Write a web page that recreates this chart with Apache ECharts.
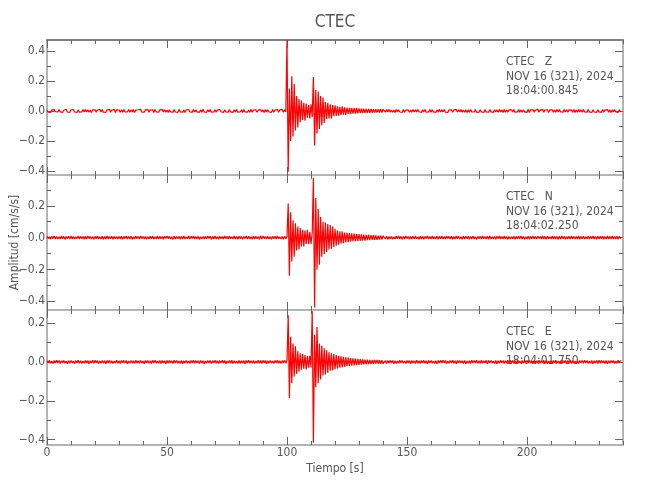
<!DOCTYPE html>
<html><head><meta charset="utf-8">
<script src="https://cdn.jsdelivr.net/npm/echarts@6/dist/echarts.min.js"></script>
<style>html,body{margin:0;padding:0;background:#fff}#c{width:650px;height:500px}</style>
</head><body><div id="c"></div>
<script>
// ---------- DATA ----------
const stationTitle = 'CTEC';
const componentLabels = [
  'CTEC   Z\nNOV 16 (321), 2024\n18:04:00.845',
  'CTEC   N\nNOV 16 (321), 2024\n18:04:02.250',
  'CTEC   E\nNOV 16 (321), 2024\n18:04:01.750'
];
const xAxisName = 'Tiempo [s]';
const yAxisName = 'Amplitud [cm/s/s]';
const sampleInterval = 0.5; // seconds between samples
// traces in thousandths of cm/s/s, one sample every 0.5 s from t = 0
const zTraceMilli = [
6,-8,5,-10,7,-6,9,-5,8,-7,
10,-6,7,-9,5,-8,11,-7,6,-9,
8,-5,9,-7,6,-10,7,-8,5,-6,
9,-7,10,-6,8,-9,6,-11,7,-5,
8,-8,6,-7,10,-6,9,-8,5,-9,
7,-6,11,-8,6,-7,9,-10,8,-5,
6,-9,7,-8,10,-6,5,-7,9,-8,
8,-6,9,-10,6,-7,8,-5,11,-8,
5,-8,7,-6,9,-9,6,-7,8,-10,
10,-7,6,-8,7,-5,9,-6,8,-9,
7,-10,8,-6,5,-8,10,-7,6,-9,
9,-6,7,-8,6,-11,8,-5,9,-7,
6,-8,10,-7,8,-6,5,-9,7,-8,
11,-7,6,-9,8,-6,9,-8,5,-7,
8,-9,6,-7,10,-5,7,-10,8,-6,
7,-8,9,-6,6,-9,8,-7,10,-8,
5,-7,8,-10,9,-6,7,-8,6,-9,
10,-8,6,-7,8,-9,5,-6,9,-7,
7,-10,9,-6,8,-7,6,-9,10,-8,
6,-7,9,-8,7,-6,10,-9,8,
-6,
470,-405,150,-200,230,-170,180,-130,100,-110,80,-75,70,-60,55,-65,50,-45,40,-50,45,-40,
225,-230,140,-150,130,-120,100,-95,90,-80,60,-55,55,-50,45,-50,40,-35,38,-33,30,-32,28,-27,30,-25,24,-26,22,-20,
21,-19,20,-18,19,-17,18,-16,17,-15,16,-15,15,-14,14,-13,14,-12,13,-12,12,-11,12,-11,11,-10,12,-10,11,
8,-7,10,-6,9,-8,6,-9,7,-10,
9,-6,8,-7,5,-9,10,-8,6,-7,
7,-9,6,-8,10,-7,8,-6,9,-5,
6,-10,8,-7,9,-8,5,-7,10,-9,
8,-6,7,-9,6,-8,11,-7,8,-6,
9,-8,5,-10,7,-6,8,-9,6,-7,
10,-7,8,-6,9,-9,6,-8,7,-10,
7,-8,9,-6,6,-7,10,-8,5,-9,
8,-6,7,-10,9,-7,6,-8,10,-6,
6,-9,8,-7,7,-8,9,-6,8,-10,
10,-8,6,-9,7,-6,8,-7,9,-8,
5,-7,10,-8,6,-9,8,-6,7,-9,
9,-10,7,-6,8,-8,6,-7,11,-8,
7,-6,9,-9,6,-7,8,-10,7,-6,
8,-9,6,-8,10,-7,9,-6,5,-8,
10,-7,8,-9,7,-6,6,-8,9,-10,
6,-8,9,-7,8,-9,10,-6,7,-8,
9,-6,7,-10,8,-7,6,-9,8,-6,
7,-9,10,-8,6,-7,9,-8,7,-10,
8,-6,9,-7,6,-9,8,-7
];
const nTraceMilli = [
9,-7,6,-10,8,-6,11,-8,7,-9,
6,-9,10,-7,8,-11,7,-6,9,-8,
10,-8,7,-9,6,-7,10,-9,8,-6,
7,-10,9,-8,11,-6,8,-9,6,-10,
8,-7,10,-9,6,-8,9,-11,7,-8,
11,-9,7,-6,9,-10,8,-7,6,-9,
7,-8,9,-10,8,-6,10,-9,7,-8,
9,-11,6,-8,10,-7,8,-9,11,-6,
8,-9,7,-10,6,-8,9,-7,10,-9,
6,-8,11,-9,8,-7,7,-10,9,-6,
10,-7,8,-9,6,-11,9,-8,7,-6,
8,-10,7,-8,11,-9,6,-7,10,-8,
9,-6,10,-9,7,-8,8,-11,6,-9,
7,-9,8,-7,10,-6,9,-10,8,-8,
11,-8,6,-10,9,-7,7,-9,10,-6,
8,-9,10,-7,6,-8,11,-9,7,-10,
9,-7,8,-10,7,-6,10,-8,9,-9,
6,-10,9,-8,8,-7,7,-11,10,-8,
10,-6,7,-9,9,-8,6,-10,8,-7,
9,-8,10,-7,6,-9,8,-10,8,
-7,
8,215,-240,160,-150,110,-120,90,-80,70,-75,60,-55,50,-55,45,-40,50,-40,35,-40,30,
375,-440,250,-200,180,-170,130,-120,100,-105,95,-90,85,-75,80,-70,70,-60,55,-50,45,-45,40,-38,40,-35,32,-30,30,-28,
28,-26,27,-24,25,-22,23,-21,22,-20,20,-19,19,-18,18,-16,17,-15,16,-14,15,-14,14,-13,13,-12,13,-12,12,
10,-8,9,-11,7,-9,8,-10,6,-8,
9,-7,11,-8,8,-10,7,-9,10,-6,
8,-10,7,-9,9,-8,10,-7,6,-11,
9,-8,7,-10,8,-6,11,-9,7,-8,
10,-9,6,-8,9,-11,8,-7,10,-9,
7,-8,10,-6,8,-9,9,-10,7,-8,
11,-7,8,-9,6,-10,9,-8,8,-7,
9,-10,7,-8,10,-9,6,-11,8,-7,
8,-9,10,-7,7,-8,9,-10,11,-8,
6,-9,8,-10,9,-7,10,-8,7,-9,
10,-8,7,-11,8,-9,6,-7,9,-10,
8,-7,9,-9,10,-8,7,-10,6,-8,
9,-11,8,-7,10,-9,7,-8,9,-6,
7,-9,10,-8,8,-10,9,-7,6,-9,
10,-8,8,-9,7,-11,9,-8,10,-7,
8,-10,6,-9,9,-8,11,-7,8,-9,
7,-8,10,-10,8,-7,9,-9,6,-8,
9,-9,8,-7,10,-8,7,-10,9,-8,
8,-7,9,-10,7,-9,10,-8,8,-9,
10,-8,7,-9,9,-10,8,-7
];
const eTraceMilli = [
6,-5,8,-7,5,-8,7,-6,9,-5,
7,-8,6,-5,8,-7,5,-9,6,-7,
8,-6,5,-8,7,-5,9,-7,6,-8,
5,-7,8,-6,7,-9,6,-5,8,-7,
9,-6,7,-8,5,-7,8,-6,6,-9,
7,-5,8,-7,6,-8,5,-6,9,-7,
6,-8,7,-5,8,-6,7,-9,5,-7,
8,-7,6,-8,9,-5,6,-7,8,-6,
5,-9,7,-6,8,-7,6,-8,7,-5,
9,-6,5,-7,8,-8,7,-6,6,-9,
7,-7,8,-5,6,-8,9,-6,7,-7,
5,-8,7,-9,6,-6,8,-7,5,-8,
8,-6,9,-7,7,-5,6,-8,8,-7,
6,-9,5,-7,8,-6,7,-8,6,-5,
9,-7,6,-8,7,-6,8,-5,7,-9,
5,-6,8,-7,9,-8,6,-7,5,-8,
7,-8,6,-6,8,-9,7,-5,9,-7,
6,-7,8,-8,5,-6,9,-7,7,-8,
8,-5,7,-9,6,-7,8,-6,5,-8,
7,-6,9,-7,6,-8,7,-5,8,
-6,
6,240,-185,130,-110,95,-75,80,-60,55,-50,45,-40,40,-35,35,-38,30,-30,32,-28,260,
-415,140,-130,180,-110,95,-90,85,-70,70,-65,60,-55,50,-45,45,-42,40,-38,35,-33,32,-30,30,-28,26,-25,24,-22,22,
-21,20,-19,19,-18,17,-16,16,-15,14,-14,13,-13,12,-12,12,-11,11,-11,10,-10,10,-9,10,-9,9,-9,9,-8,
-7,6,-8,7,-5,8,-6,7,-9,6,
-8,5,-7,9,-6,8,-7,5,-8,7,
-6,8,-9,7,-5,6,-8,9,-7,6,
-8,7,-5,8,-7,6,-9,7,-6,8,
-7,5,-8,6,-9,7,-6,8,-5,9,
-6,7,-8,5,-7,8,-6,9,-7,6,
-9,8,-6,7,-5,6,-8,7,-9,5,
-7,6,-8,9,-6,7,-5,8,-7,6,
-8,9,-7,6,-5,8,-9,7,-6,8,
-6,5,-8,7,-9,6,-7,8,-5,7,
-8,6,-7,9,-6,8,-5,7,-8,6,
-9,7,-6,5,-8,7,-7,9,-6,8,
-5,8,-7,6,-9,7,-8,6,-6,9,
-7,6,-5,8,-8,7,-9,5,-7,6,
-8,7,-6,9,-7,5,-8,6,-9,8,
-6,8,-7,7,-5,9,-8,6,-7,5,
-9,6,-8,7,-6,8,-7,9,-5,7,
-8,5,-7,8,-9,6,-6,7,-8,9,
-7,8,-5,6,-8,7,-9,6,-7,8,
-6,7,-8,5,-7,9,-6,8
];
const traces = [zTraceMilli, nTraceMilli, eTraceMilli];
const xRange = [0, 240];
const xMajorTicks = [0, 50, 100, 150, 200];
const xMinorTicks = [0,10,20,30,40,50,60,70,80,90,100,110,120,130,140,150,160,170,180,190,200,210,220,230,240];
const yRanges = [[-0.426, 0.472], [-0.455, 0.394], [-0.427, 0.267]];
const yMajorTicks = [[-0.4,-0.2,0,0.2,0.4], [-0.4,-0.2,0,0.2], [-0.4,-0.2,0,0.2]];
const yMinorTicks = [
  [-0.4,-0.3,-0.2,-0.1,0,0.1,0.2,0.3,0.4],
  [-0.4,-0.3,-0.2,-0.1,0,0.1,0.2,0.3],
  [-0.4,-0.3,-0.2,-0.1,0,0.1,0.2]
];

// ---------- CHART ----------
const FONT = "'DejaVu Sans Condensed','Liberation Sans Narrow','Liberation Sans',sans-serif";
const TXT = '#555';
const AX = '#b4b4b4';
const TICK = '#666';
const PLOT_LEFT = 47, PLOT_RIGHT = 27, PLOT_TOP = 40, PANEL_H = 135;

const grids = [], xAxes = [], yAxes = [], series = [], graphics = [];
const fmtY = v => (v < 0 ? '\u2212' : '') + Math.abs(v).toFixed(1);

traces.forEach((tr, g) => {
  grids.push({left: PLOT_LEFT, right: PLOT_RIGHT, top: PLOT_TOP + PANEL_H * g, height: PANEL_H,
              containLabel: false, outerBoundsMode: 'none'});
  const xb = {gridIndex: g, type: 'value', min: xRange[0], max: xRange[1], splitLine: {show: false}};
  const majorX = {show: true, inside: true, length: 8, customValues: xMajorTicks, lineStyle: {color: TICK, width: 1}};
  const minorX = {show: true, inside: true, length: 4, customValues: xMinorTicks, lineStyle: {color: TICK, width: 1}};
  xAxes.push(Object.assign({}, xb, {
    position: 'bottom',
    axisLine: {show: true, onZero: false, lineStyle: {color: AX, width: 2}},
    axisTick: majorX,
    axisLabel: {show: g === 2, customValues: xMajorTicks, margin: 2, color: TXT, fontFamily: FONT, fontSize: 12},
    name: g === 2 ? xAxisName : '', nameLocation: 'middle', nameGap: 18, nameMoveOverlap: false,
    nameTextStyle: {color: TXT, fontFamily: FONT, fontSize: 12, verticalAlign: 'top'}
  }));
  xAxes.push(Object.assign({}, xb, {
    position: 'top',
    axisLine: {show: true, onZero: false, lineStyle: {color: g === 0 ? '#808080' : AX, width: 2}},
    axisTick: majorX, axisLabel: {show: false}
  }));
  xAxes.push(Object.assign({}, xb, {position: 'bottom', axisLine: {show: false, onZero: false}, axisTick: minorX, axisLabel: {show: false}}));
  xAxes.push(Object.assign({}, xb, {position: 'top', axisLine: {show: false, onZero: false}, axisTick: minorX, axisLabel: {show: false}}));

  const yb = {gridIndex: g, type: 'value', min: yRanges[g][0], max: yRanges[g][1], splitLine: {show: false}};
  const majorY = {show: true, inside: true, length: 8, customValues: yMajorTicks[g], lineStyle: {color: TICK, width: 1}};
  const minorY = {show: true, inside: true, length: 4, customValues: yMinorTicks[g], lineStyle: {color: TICK, width: 1}};
  yAxes.push(Object.assign({}, yb, {
    position: 'left',
    axisLine: {show: true, onZero: false, lineStyle: {color: AX, width: 2}},
    axisTick: majorY,
    axisLabel: {show: true, customValues: yMajorTicks[g], formatter: fmtY, margin: 2, color: TXT, fontFamily: FONT, fontSize: 12},
    name: g === 1 ? yAxisName : '', nameLocation: 'middle', nameGap: 26, nameRotate: 90, nameMoveOverlap: false,
    nameTextStyle: {color: TXT, fontFamily: FONT, fontSize: 12}
  }));
  yAxes.push(Object.assign({}, yb, {
    position: 'right',
    axisLine: {show: true, onZero: false, lineStyle: {color: AX, width: 2}},
    axisTick: majorY, axisLabel: {show: false}
  }));
  yAxes.push(Object.assign({}, yb, {position: 'left', axisLine: {show: false, onZero: false}, axisTick: minorY, axisLabel: {show: false}}));
  yAxes.push(Object.assign({}, yb, {position: 'right', axisLine: {show: false, onZero: false}, axisTick: minorY, axisLabel: {show: false}}));

  series.push({
    type: 'line', xAxisIndex: 4 * g, yAxisIndex: 4 * g,
    data: tr.map((v, i) => [i * sampleInterval, v / 1000]),
    showSymbol: false, symbol: 'none', sampling: null, clip: true,
    lineStyle: {color: '#ff0000', width: 1.2}, z: 1, silent: true
  });

  graphics.push({
    type: 'text', x: 506, y: PLOT_TOP + PANEL_H * g + 15, silent: true,
    style: {text: componentLabels[g], fill: TXT, fontFamily: FONT, fontSize: 12, lineHeight: 14.5,
            align: 'left', verticalAlign: 'top'}
  });
});

graphics.push({
  type: 'text', x: 335, y: 23, silent: true,
  style: {text: stationTitle, fill: TXT, fontFamily: FONT, fontSize: 17, align: 'center', verticalAlign: 'middle'}
});

const chart = echarts.init(document.getElementById('c'), null, {renderer: 'canvas'});
chart.setOption({
  backgroundColor: '#ffffff',
  animation: false,
  grid: grids,
  xAxis: xAxes,
  yAxis: yAxes,
  series: series,
  graphic: graphics
});
</script>
</body></html>
